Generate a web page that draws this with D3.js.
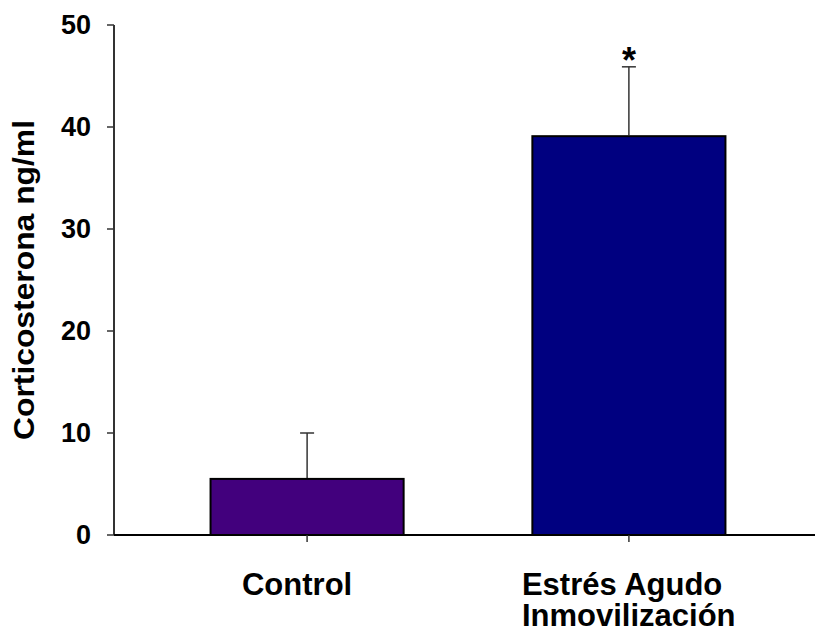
<!DOCTYPE html>
<html>
<head>
<meta charset="utf-8">
<script src="https://cdn.jsdelivr.net/npm/d3@7"></script>
<style>
  body { margin: 0; background: #fff; }
  svg { display: block; }
  text { font-family: "Liberation Sans", Arial, sans-serif; font-weight: bold; fill: #000; }
</style>
</head>
<body>
<svg></svg>
<script>
const width = 815;
const height = 633;

// datos
const groups = ["Control", "Estrés Agudo\nInmovilización"];
const means = [5.5, 39.1];
const errors = [4.5, 6.8];
const colors = ["#42007d", "#000080"];
const marks = ["", "*"];
const yTicks = [0, 10, 20, 30, 40, 50];

const svg = d3.select("svg")
    .attr("width", width)
    .attr("height", height);

const y = d3.scaleLinear()
    .domain([0, 50])
    .range([535, 25]);

const x = d3.scaleBand()
    .domain(groups)
    .range([114, 822])
    .paddingInner(0.4)
    .paddingOuter(0.3);

// eje y
svg.append("line")
    .attr("x1", 114).attr("x2", 114)
    .attr("y1", y(0)).attr("y2", y(50))
    .attr("stroke", "#333").attr("stroke-width", 2);

svg.selectAll(".ytick")
    .data(yTicks)
    .enter().append("line")
    .attr("x1", 107).attr("x2", 114)
    .attr("y1", d => y(d)).attr("y2", d => y(d))
    .attr("stroke", "#333").attr("stroke-width", 1.5);

svg.selectAll(".ylab")
    .data(yTicks)
    .enter().append("text")
    .attr("x", 91)
    .attr("y", d => y(d))
    .attr("dy", "0.35em")
    .attr("text-anchor", "end")
    .style("font-size", "27px")
    .text(d => d);

svg.append("text")
    .attr("transform", "translate(34," + y(25) + ") rotate(-90)")
    .attr("text-anchor", "middle")
    .style("font-size", "29px")
    .attr("textLength", 320)
    .attr("lengthAdjust", "spacingAndGlyphs")
    .text("Corticosterona ng/ml");

// barras
svg.selectAll(".bar")
    .data(groups)
    .enter().append("rect")
    .attr("x", d => x(d))
    .attr("y", (d, i) => y(means[i]))
    .attr("width", x.bandwidth())
    .attr("height", (d, i) => y(0) - y(means[i]))
    .attr("fill", (d, i) => colors[i])
    .attr("stroke", "#000")
    .attr("stroke-width", 2);

// barras de error (solo hacia arriba)
const cx = d => x(d) + x.bandwidth() / 2;

svg.selectAll(".err")
    .data(groups)
    .enter().append("line")
    .attr("x1", cx).attr("x2", cx)
    .attr("y1", (d, i) => y(means[i]) - 1)
    .attr("y2", (d, i) => y(means[i] + errors[i]))
    .attr("stroke", "#000").attr("stroke-width", 1.2);

svg.selectAll(".cap")
    .data(groups)
    .enter().append("line")
    .attr("x1", d => cx(d) - 7).attr("x2", d => cx(d) + 7)
    .attr("y1", (d, i) => y(means[i] + errors[i]))
    .attr("y2", (d, i) => y(means[i] + errors[i]))
    .attr("stroke", "#333").attr("stroke-width", 1.5);

svg.selectAll(".mark")
    .data(groups)
    .enter().append("text")
    .attr("x", cx)
    .attr("y", (d, i) => y(means[i] + errors[i]) + 6)
    .attr("text-anchor", "middle")
    .style("font-size", "36px")
    .text((d, i) => marks[i]);

// eje x
svg.append("line")
    .attr("x1", 114).attr("x2", 815)
    .attr("y1", y(0)).attr("y2", y(0))
    .attr("stroke", "#000").attr("stroke-width", 2);

svg.selectAll(".xtick")
    .data(groups)
    .enter().append("line")
    .attr("x1", cx).attr("x2", cx)
    .attr("y1", y(0)).attr("y2", y(0) + 7)
    .attr("stroke", "#333").attr("stroke-width", 1.5);

svg.selectAll(".xlab")
    .data(groups)
    .enter().append("text")
    .attr("x", d => d.includes("\n") ? cx(d) - 107 : cx(d) - 10)
    .attr("y", 595)
    .attr("text-anchor", d => d.includes("\n") ? "start" : "middle")
    .style("font-size", "31px")
    .each(function(d) {
        const lines = d.split("\n");
        const t = d3.select(this);
        const x0 = t.attr("x");
        lines.forEach((l, k) => {
            t.append("tspan")
                .attr("x", x0)
                .attr("dy", k === 0 ? 0 : 31)
                .text(l);
        });
    });
</script>
</body>
</html>
